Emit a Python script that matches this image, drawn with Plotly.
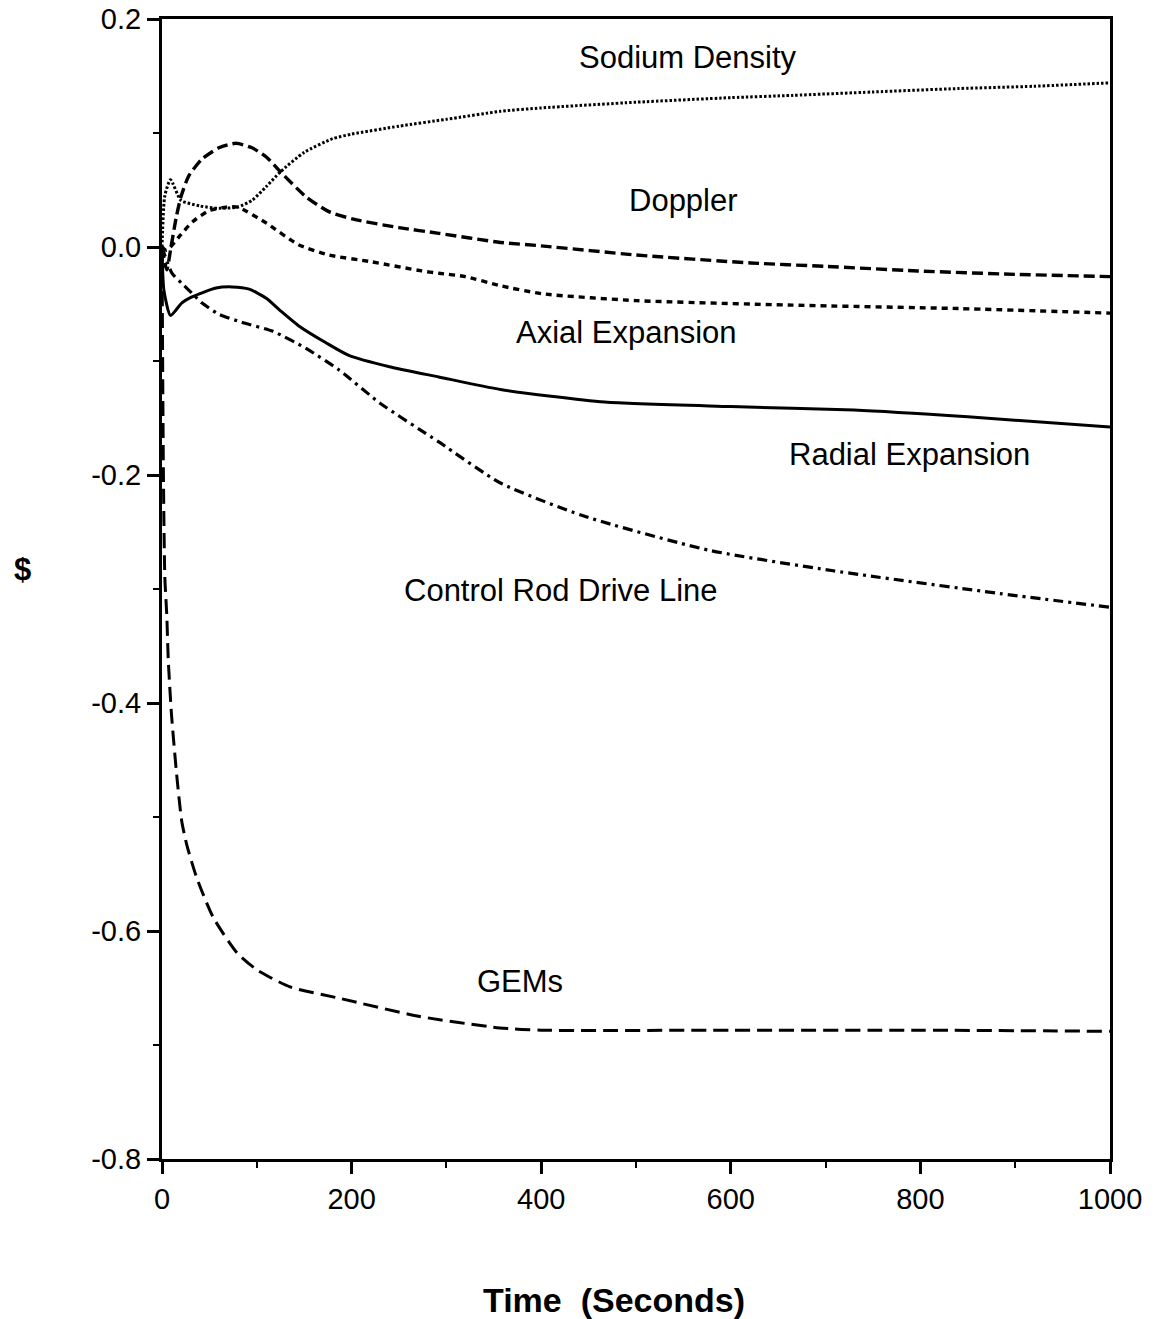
import plotly.graph_objects as go

# ---- data (time in seconds, reactivity in $) ----
sodium_t = [0, 3, 9, 20, 40, 60, 80, 95, 110, 125, 150, 180, 200, 250, 300, 357, 400, 500, 600, 665, 750, 840, 920, 1000]
sodium_v = [0, 0.045, 0.059, 0.041, 0.036, 0.034, 0.035, 0.041, 0.053, 0.066, 0.083, 0.095, 0.099, 0.106, 0.112, 0.119,
            0.122, 0.127, 0.131, 0.133, 0.136, 0.139, 0.141, 0.144]

doppler_t = [0, 5, 9.5, 15, 20, 28, 42, 60, 78, 95, 110, 126, 152, 176, 204, 250, 292, 357, 400, 500, 621, 700, 797, 900, 1000]
doppler_v = [0, -0.02, 0.0, 0.026, 0.044, 0.062, 0.077, 0.087, 0.091, 0.087, 0.079, 0.065, 0.044, 0.031, 0.024, 0.017,
             0.012, 0.004, 0.001, -0.007, -0.014, -0.017, -0.021, -0.024, -0.026]

axial_t = [0, 5, 18, 32, 50, 68, 80, 110, 144, 176, 221, 274, 292, 320, 357, 401, 500, 665, 840, 1000]
axial_v = [0, -0.003, 0.009, 0.022, 0.032, 0.035, 0.035, 0.021, 0.002, -0.007, -0.013, -0.021, -0.023, -0.026,
           -0.034, -0.041, -0.047, -0.051, -0.054, -0.058]

radial_t = [0, 2, 9, 21, 31, 57, 74, 92, 110, 125, 144, 173, 197, 240, 292, 357, 467, 600, 730, 850, 1000]
radial_v = [0, -0.038, -0.060, -0.049, -0.044, -0.036, -0.035, -0.037, -0.045, -0.056, -0.069, -0.084, -0.095,
            -0.105, -0.114, -0.125, -0.136, -0.140, -0.143, -0.149, -0.158]

crdl_t = [0, 10.5, 21, 31, 42, 60, 84, 117, 152, 187, 230, 292, 357, 445, 577, 708, 884, 1000]
crdl_v = [0, -0.023, -0.032, -0.040, -0.049, -0.059, -0.066, -0.074, -0.089, -0.108, -0.137, -0.171, -0.207,
          -0.236, -0.266, -0.284, -0.304, -0.316]

gems_t = [0, 1.5, 3, 5, 6.6, 10, 15.5, 20.7, 26, 36.5, 54, 79, 100, 135, 187, 272, 356, 400, 600, 800, 1000]
gems_v = [0, -0.2, -0.29, -0.322, -0.362, -0.41, -0.463, -0.503, -0.524, -0.553, -0.588, -0.619, -0.634, -0.649,
          -0.659, -0.675, -0.685, -0.687, -0.687, -0.687, -0.688]

labels = ["Sodium Density", "Doppler", "Axial Expansion", "Radial Expansion", "Control Rod Drive Line", "GEMs"]
label_t = [555, 550, 490, 789, 421, 378]
label_v = [0.166, 0.041, -0.075, -0.182, -0.301, -0.644]

x_ticks = [0, 200, 400, 600, 800, 1000]
y_ticks = [0.2, 0.0, -0.2, -0.4, -0.6, -0.8]
y_tick_text = ["0.2", "0.0", "-0.2", "-0.4", "-0.6", "-0.8"]

series = [
    (sodium_t, sodium_v, "2.5px,2px", 3),
    (doppler_t, doppler_v, "11px,5px", 3.4),
    (axial_t, axial_v, "6px,5px", 3.4),
    (radial_t, radial_v, "solid", 3),
    (crdl_t, crdl_v, "10px,5px,3px,5px", 3.2),
    (gems_t, gems_v, "15px,7px", 3),
]

fig = go.Figure()
for t, v, dash, w in series:
    fig.add_trace(go.Scatter(x=t, y=v, mode="lines",
                             line=dict(color="black", width=w, dash=dash, shape="spline", smoothing=0.6),
                             showlegend=False, hoverinfo="skip", cliponaxis=True))

label_font = dict(family="Liberation Sans, Arial, sans-serif", size=31, color="black")
for txt, tx, vy in zip(labels, label_t, label_v):
    fig.add_annotation(x=tx, y=vy, text=txt, showarrow=False, font=label_font,
                       xanchor="center", yanchor="middle")

fig.add_annotation(xref="paper", yref="paper", x=-0.147, y=0.5175, text="<b>$</b>", showarrow=False,
                   font=dict(family="Liberation Sans, Arial, sans-serif", size=31, color="black"),
                   xanchor="center", yanchor="middle")
fig.add_annotation(xref="paper", yref="paper", x=0.4768, y=-0.1237, text="<b>Time  (Seconds)</b>", showarrow=False,
                   font=dict(family="Liberation Sans, Arial, sans-serif", size=34, color="black"),
                   xanchor="center", yanchor="middle")

axis_font = dict(family="Liberation Sans, Arial, sans-serif", size=29, color="black")
fig.update_xaxes(range=[0, 1000], tickvals=x_ticks, ticks="outside", ticklen=12, tickwidth=2.5,
                 tickcolor="black", showline=True, linecolor="black", linewidth=3, mirror=True,
                 showgrid=False, zeroline=False, tickfont=axis_font, automargin=False,
                 minor=dict(tickvals=[100, 300, 500, 700, 900], ticks="outside", ticklen=6,
                            tickwidth=2, tickcolor="black"))
fig.update_yaxes(range=[-0.8, 0.2], tickvals=y_ticks, ticktext=y_tick_text, ticks="outside", ticklen=12,
                 tickwidth=2.5, tickcolor="black", showline=True, linecolor="black", linewidth=3, mirror=True,
                 showgrid=False, zeroline=False, tickfont=axis_font, automargin=False,
                 minor=dict(tickvals=[0.1, -0.1, -0.3, -0.5, -0.7], ticks="outside", ticklen=6,
                            tickwidth=2, tickcolor="black"))

fig.update_layout(width=1156, height=1319, margin=dict(l=162, r=46, t=19, b=160, autoexpand=False),
                  plot_bgcolor="white", paper_bgcolor="white")

fig.write_html("out.html")
